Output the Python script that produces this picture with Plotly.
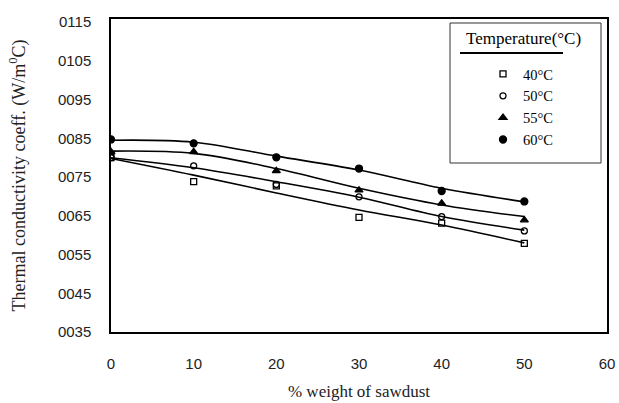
import plotly.graph_objects as go

# data
sawdust = [0, 10, 20, 30, 40, 50]
k_40 = [0.0800, 0.0738, 0.0727, 0.0646, 0.0631, 0.0579]
k_50 = [0.0800, 0.0779, 0.0731, 0.0699, 0.0648, 0.0611]
k_55 = [0.0815, 0.0815, 0.0766, 0.0716, 0.0682, 0.0639]
k_60 = [0.0847, 0.0837, 0.0801, 0.0772, 0.0714, 0.0687]
# trend curves
fit_40 = [0.0798, 0.0755, 0.0709, 0.0665, 0.0626, 0.0580]
fit_50 = [0.0800, 0.0774, 0.0738, 0.0698, 0.0648, 0.0613]
fit_55 = [0.0817, 0.0811, 0.0772, 0.0721, 0.0678, 0.0648]
fit_60 = [0.0845, 0.0840, 0.0804, 0.0768, 0.0721, 0.0686]

series_names = ["40°C", "50°C", "55°C", "60°C"]
y_tickvals = [0.035, 0.045, 0.055, 0.065, 0.075, 0.085, 0.095, 0.105, 0.115]
y_ticktext = ["0035", "0045", "0055", "0065", "0075", "0085", "0095", "0105", "0115"]
x_tickvals = [0, 10, 20, 30, 40, 50, 60]

points = [k_40, k_50, k_55, k_60]
fits = [fit_40, fit_50, fit_55, fit_60]
symbols = ["square-open", "circle-open", "triangle-up", "circle"]
sizes = [6, 6, 7, 7]

fig = go.Figure()
for f in fits:
    fig.add_trace(go.Scatter(x=sawdust, y=f, mode="lines", line=dict(color="black", width=1.6, shape="spline"),
                             showlegend=False, hoverinfo="skip"))
for name, p, s, sz in zip(series_names, points, symbols, sizes):
    fig.add_trace(go.Scatter(x=sawdust, y=p, mode="markers", name=name,
                             marker=dict(symbol=s, size=sz, color="black", line=dict(color="black", width=1.3))))

serif = "Liberation Serif, Times New Roman, serif"
sans = "Liberation Sans, Arial, sans-serif"

FW, FH = 619, 403
L, R, T, B = 111, 12, 19, 71
W, H = FW - L - R, FH - T - B


def px(xp):
    return (xp - L) / W


def py(yp):
    return (FH - B - yp) / H


fig.update_layout(
    width=FW, height=FH,
    margin=dict(l=L, r=R, t=T, b=B),
    paper_bgcolor="white", plot_bgcolor="white",
    showlegend=True,
    legend=dict(x=px(483), y=py(58), xanchor="left", yanchor="top",
                bgcolor="rgba(0,0,0,0)", borderwidth=0,
                font=dict(family=serif, size=14.5, color="black"), tracegroupgap=0),
    xaxis=dict(range=[0, 60], tickvals=x_tickvals, showgrid=False, zeroline=False, automargin=False,
               showline=True, linecolor="black", linewidth=1.5, mirror=True, ticks="",
               ticklabelstandoff=17, ticklabeloverflow="allow",
               tickfont=dict(family=sans, size=15, color="#222"),
               title=dict(text="% weight of sawdust", font=dict(family=serif, size=17, color="#222"), standoff=14)),
    yaxis=dict(range=[0.035, 0.1158], tickvals=y_tickvals, ticktext=y_ticktext, showgrid=False, zeroline=False,
               automargin=False,
               showline=True, linecolor="black", linewidth=1.5, mirror=True, ticks="",
               ticklabelstandoff=15, ticklabeloverflow="allow",
               tickfont=dict(family=sans, size=15, color="#222"),
               title=dict(text="Thermal conductivity coeff. (W/m<sup>0</sup>C)",
                          font=dict(family=serif, size=18, color="#222"), standoff=28)),
    shapes=[
        dict(type="rect", xref="paper", yref="paper", x0=px(450), x1=px(601), y0=py(163), y1=py(23),
             line=dict(color="#333", width=1), fillcolor="rgba(255,255,255,0)", layer="above"),
        dict(type="line", xref="paper", yref="paper", x0=px(460), x1=px(563), y0=py(53), y1=py(53),
             line=dict(color="black", width=2)),
    ],
    annotations=[
        dict(text="Temperature(°C)", xref="paper", yref="paper", x=px(523), y=py(38), showarrow=False,
             xanchor="center", yanchor="middle", font=dict(family=serif, size=17, color="black")),
    ],
)

# remove the page's default body margin so the 619x403 figure fills the window exactly
fig.write_html("out.html", config={"displayModeBar": False},
               post_script="document.body.style.margin='0';document.body.style.overflow='hidden';")
